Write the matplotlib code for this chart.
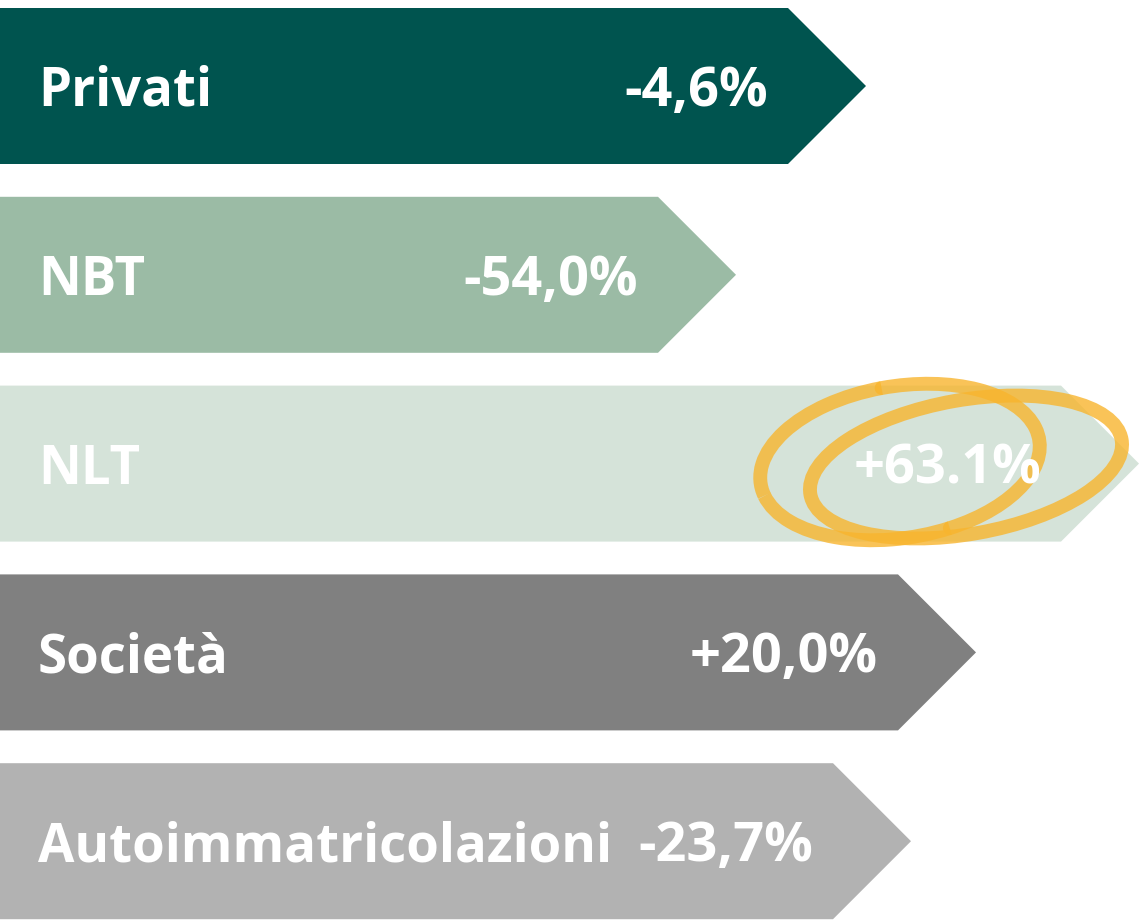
import matplotlib
matplotlib.use("Agg")
import matplotlib.pyplot as plt
from matplotlib.patches import Polygon, Ellipse, Arc

categories = ["Privati", "NBT", "NLT", "Società", "Autoimmatricolazioni"]
value_labels = ["-4,6%", "-54,0%", "+63.1%", "+20,0%", "-23,7%"]
bar_length = [866, 736, 1139, 976, 911]
colors = ["#00544F", "#9BBBA5", "#D5E3D9", "#808080", "#B2B2B2"]

W, H = 1139, 923
fig = plt.figure(figsize=(W / 100, H / 100), dpi=100)
ax = fig.add_axes([0, 0, 1, 1])
ax.set_xlim(0, W)
ax.set_ylim(H, 0)
ax.axis("off")

bar_h = 156
top0 = 8
step = 188.8
tip = bar_h / 2
font = "Open Sans"

for i, (cat, val, L, c) in enumerate(zip(categories, value_labels, bar_length, colors)):
    top = top0 + i * step
    bot = top + bar_h
    mid = (top + bot) / 2
    poly = Polygon([(0, top), (L - tip, top), (L, mid), (L - tip, bot), (0, bot)],
                   closed=True, facecolor=c, edgecolor="none")
    ax.add_patch(poly)
    ax.text(38, mid + 6, cat, color="white", fontsize=38, fontweight="bold",
            family=font, ha="left", va="center")
    ax.text(L - 98, mid + 6, val, color="white", fontsize=39, fontweight="bold",
            family=font, ha="right", va="center")

# hand-drawn style highlight around the NLT value
orange = "#F8B52E"
ax.add_patch(Arc((900, 462), 282, 152, angle=-9, theta1=-95, theta2=62,
                 edgecolor=orange, linewidth=10, alpha=0.8, capstyle="round"))
ax.add_patch(Arc((900, 462), 282, 152, angle=-9, theta1=62, theta2=175,
                 edgecolor=orange, linewidth=10, alpha=0.8))
ax.add_patch(Arc((900, 462), 282, 152, angle=-9, theta1=175, theta2=265,
                 edgecolor=orange, linewidth=10, alpha=0.8))
ax.add_patch(Ellipse((966, 467), 316, 134, angle=-10, facecolor="none",
                     edgecolor=orange, linewidth=10, alpha=0.8))

fig.savefig("out.png", dpi=100)
